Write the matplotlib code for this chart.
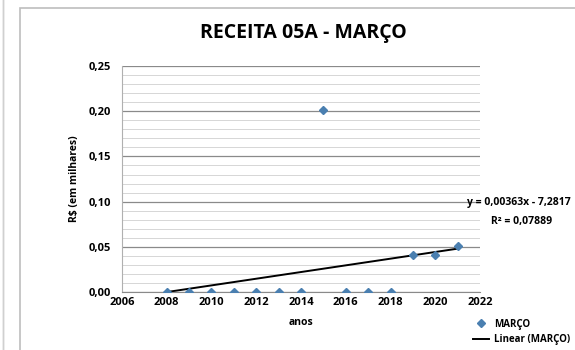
import matplotlib
matplotlib.use('Agg')
import matplotlib.pyplot as plt
from matplotlib.patches import Rectangle
from matplotlib.ticker import FuncFormatter, MultipleLocator
import numpy as np

plt.rcParams['font.family'] = ['Open Sans', 'DejaVu Sans']

# data
anos = [2008, 2009, 2010, 2011, 2012, 2013, 2014, 2015, 2016, 2017, 2018, 2019, 2020, 2021]
marco = [0.0, 0.0, 0.0, 0.0, 0.0, 0.0, 0.0, 0.201, 0.0, 0.0, 0.0, 0.041, 0.041, 0.051]
equacao = 'y = 0,00363x - 7,2817'
r2 = 'R² = 0,07889'

x = np.array(anos)
y = np.array(marco)
coef = np.polyfit(x, y, 1)

fig = plt.figure(figsize=(5.75, 3.5), dpi=100)
ax = fig.add_axes([0.212, 0.166, 0.623, 0.645])

# chart area border
fig.patches.append(Rectangle((20/575, -0.2), 1.2, 1.2 - 8/350, transform=fig.transFigure,
                             fill=False, edgecolor='#bdbdbd', lw=1.2))
fig.patches.append(Rectangle((3/575, -0.2), 0, 1.5, transform=fig.transFigure,
                             fill=False, edgecolor='#d0d0d0', lw=1.0))

ax.plot(x, y, linestyle='none', marker='D', markersize=4.5, color='#4a7fb0',
        label='MARÇO', zorder=3)
xt = np.array([anos[0], anos[-1]])
ax.plot(xt, np.polyval(coef, xt), color='black', lw=1.4, label='Linear (MARÇO)', zorder=2)

ax.set_xlim(2006, 2022)
ax.set_ylim(0, 0.25)
ax.xaxis.set_major_locator(MultipleLocator(2))
ax.yaxis.set_major_locator(MultipleLocator(0.05))
ax.yaxis.set_minor_locator(MultipleLocator(0.01))
ax.yaxis.set_major_formatter(FuncFormatter(lambda v, p: ('%.2f' % v).replace('.', ',')))

ax.grid(axis='y', which='major', color='#8a8a8a', lw=0.9)
ax.grid(axis='y', which='minor', color='#d6d6d6', lw=0.7)
ax.set_axisbelow(True)
for s in ['top', 'right']:
    ax.spines[s].set_visible(False)
ax.spines['left'].set_color('#b0b0b0')
ax.spines['bottom'].set_color('#8a8a8a')
ax.tick_params(axis='both', which='both', length=0, labelsize=8, pad=4)
for lab in ax.get_xticklabels() + ax.get_yticklabels():
    lab.set_fontweight('bold')
ax.tick_params(axis='y', pad=8)

ax.set_xlabel('anos', fontsize=7.5, fontweight='bold', labelpad=6)
ax.set_ylabel('R$ (em milhares)', fontsize=7.5, fontweight='bold', labelpad=6)
fig.text(0.527, 0.905, 'RECEITA 05A - MARÇO', ha='center', va='center',
         fontsize=14, fontweight='bold')

fig.text(467/575, 1 - 203/350, equacao, ha='left', va='center', fontsize=7.5, fontweight='bold')
fig.text(522/575, 1 - 222/350, r2, ha='center', va='center', fontsize=7.5, fontweight='bold')

fig.legend(loc='upper left', bbox_to_anchor=(468/575, 1 - 314/350), frameon=False,
           handlelength=1.7, handletextpad=0.5, labelspacing=0.45, borderpad=0,
           prop={'weight': 'bold', 'size': 7})

fig.savefig('out.png', dpi=100)
